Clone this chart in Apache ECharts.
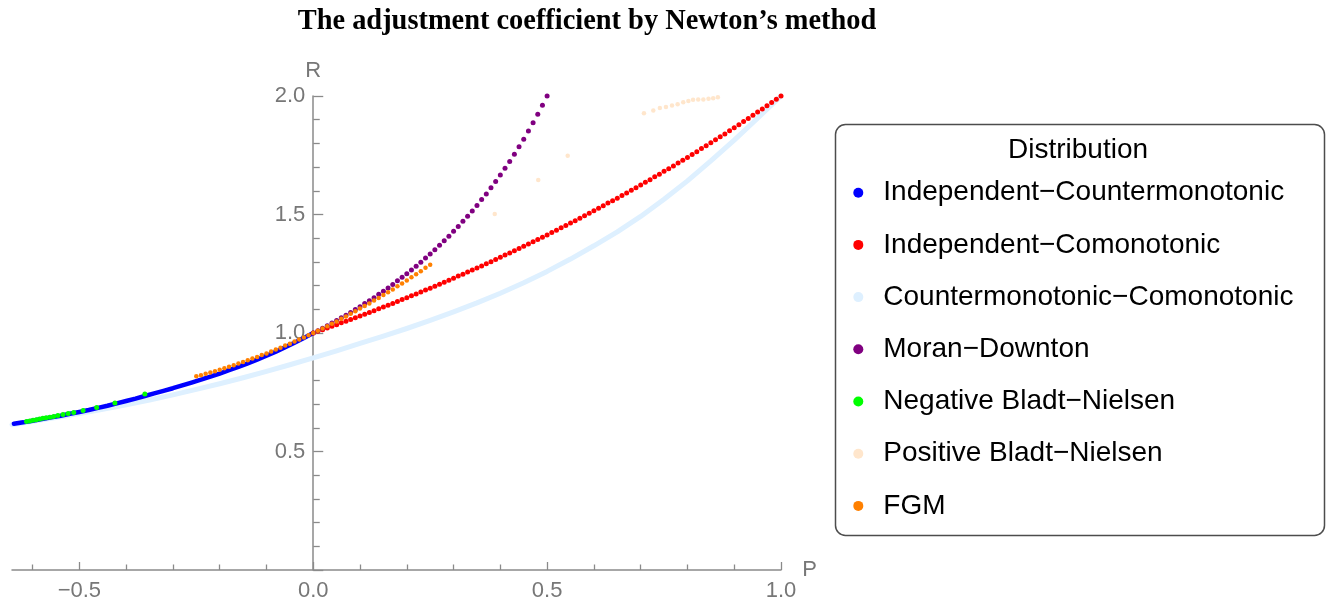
<!DOCTYPE html>
<html>
<head>
<meta charset="utf-8">
<script src="https://cdn.jsdelivr.net/npm/echarts@6/dist/echarts.min.js"></script>
<style>html,body{margin:0;padding:0;background:#fff}#c{width:1335px;height:600px}</style>
</head>
<body>
<div id="c"></div>
<script>
// ---- Data ----
const seriesNames = [
  'Independent\u2212Countermonotonic',
  'Independent\u2212Comonotonic',
  'Countermonotonic\u2212Comonotonic',
  'Moran\u2212Downton',
  'Negative Bladt\u2212Nielsen',
  'Positive Bladt\u2212Nielsen',
  'FGM'
];
const seriesColors = ['#0000FF', '#FF0000', '#DEF0FF', '#800080', '#00FF00', '#FFE6CC', '#FF8000'];

const xTickLabels = [-0.5, 0.0, 0.5, 1.0];
const xMinorTicks = [-0.6, -0.4, -0.3, -0.2, -0.1, 0.1, 0.2, 0.3, 0.4, 0.6, 0.7, 0.8, 0.9];

// Independent-Countermonotonic (blue)
const pIC = [-0.64,-0.62,-0.60,-0.58,-0.56,-0.54,-0.52,-0.50,-0.48,-0.46,-0.44,-0.42,-0.40,-0.38,-0.36,-0.34,-0.32,-0.30,-0.28,-0.26,-0.24,-0.22,-0.20,-0.18,-0.16,-0.14,-0.12,-0.10,-0.08,-0.06,-0.04,-0.02,0.00];
const rIC = [0.617,0.623,0.630,0.637,0.644,0.651,0.659,0.667,0.675,0.684,0.693,0.703,0.713,0.723,0.734,0.745,0.756,0.767,0.779,0.791,0.803,0.816,0.829,0.843,0.857,0.872,0.888,0.904,0.921,0.940,0.959,0.979,1.000];

// Independent-Comonotonic (red)
const pICo = [0.00,0.01,0.02,0.03,0.04,0.05,0.06,0.07,0.08,0.09,0.10,0.11,0.12,0.13,0.14,0.15,0.16,0.17,0.18,0.19,0.20,0.21,0.22,0.23,0.24,0.25,0.26,0.27,0.28,0.29,0.30,0.31,0.32,0.33,0.34,0.35,0.36,0.37,0.38,0.39,0.40,0.41,0.42,0.43,0.44,0.45,0.46,0.47,0.48,0.49,0.50,0.51,0.52,0.53,0.54,0.55,0.56,0.57,0.58,0.59,0.60,0.61,0.62,0.63,0.64,0.65,0.66,0.67,0.68,0.69,0.70,0.71,0.72,0.73,0.74,0.75,0.76,0.77,0.78,0.79,0.80,0.81,0.82,0.83,0.84,0.85,0.86,0.87,0.88,0.89,0.90,0.91,0.92,0.93,0.94,0.95,0.96,0.97,0.98,0.99,1.00];
const rICo = [1.000,1.007,1.014,1.021,1.028,1.035,1.043,1.050,1.057,1.064,1.072,1.079,1.087,1.094,1.102,1.110,1.117,1.125,1.133,1.141,1.149,1.157,1.165,1.173,1.181,1.189,1.197,1.206,1.214,1.223,1.231,1.240,1.248,1.257,1.266,1.274,1.283,1.292,1.301,1.310,1.320,1.329,1.338,1.347,1.357,1.366,1.376,1.385,1.395,1.404,1.414,1.424,1.434,1.444,1.454,1.464,1.474,1.484,1.495,1.505,1.516,1.526,1.537,1.548,1.558,1.569,1.580,1.591,1.602,1.613,1.625,1.636,1.647,1.659,1.670,1.682,1.693,1.705,1.717,1.729,1.741,1.753,1.765,1.778,1.790,1.803,1.815,1.828,1.840,1.853,1.866,1.879,1.892,1.905,1.919,1.932,1.945,1.959,1.973,1.986,2.000];

// Countermonotonic-Comonotonic (light blue)
const pCC = [-0.644,-0.60,-0.55,-0.50,-0.45,-0.40,-0.35,-0.30,-0.25,-0.20,-0.15,-0.10,-0.05,0.00,0.05,0.10,0.15,0.20,0.25,0.30,0.35,0.40,0.45,0.50,0.55,0.60,0.65,0.70,0.75,0.80,0.85,0.90,0.95,1.00];
const rCC = [0.613,0.627,0.643,0.660,0.678,0.697,0.717,0.739,0.762,0.786,0.811,0.838,0.866,0.895,0.925,0.956,0.987,1.019,1.053,1.089,1.127,1.168,1.212,1.260,1.312,1.368,1.427,1.492,1.564,1.642,1.726,1.814,1.906,2.000];

// Moran-Downton (purple)
const pMD = [0.00,0.01,0.02,0.03,0.04,0.05,0.06,0.07,0.08,0.09,0.10,0.11,0.12,0.13,0.14,0.15,0.16,0.17,0.18,0.19,0.20,0.21,0.22,0.23,0.24,0.25,0.26,0.27,0.28,0.29,0.30,0.31,0.32,0.33,0.34,0.35,0.36,0.37,0.38,0.39,0.40,0.41,0.42,0.43,0.44,0.45,0.46,0.47,0.48,0.49,0.50];
const rMD = [1.000,1.010,1.020,1.031,1.042,1.053,1.064,1.075,1.087,1.099,1.111,1.124,1.136,1.149,1.163,1.176,1.190,1.205,1.220,1.235,1.250,1.266,1.282,1.299,1.316,1.333,1.351,1.370,1.389,1.408,1.429,1.449,1.471,1.493,1.515,1.538,1.563,1.587,1.613,1.639,1.667,1.695,1.724,1.754,1.786,1.818,1.852,1.887,1.923,1.961,2.000];

// Negative Bladt-Nielsen (green)
const pNBN = [-0.613,-0.606,-0.599,-0.592,-0.585,-0.578,-0.571,-0.563,-0.555,-0.546,-0.535,-0.524,-0.512,-0.492,-0.463,-0.424,-0.360];
const rNBN = [0.627,0.629,0.632,0.634,0.637,0.640,0.642,0.645,0.648,0.652,0.656,0.660,0.665,0.673,0.686,0.705,0.743];

// Positive Bladt-Nielsen (peach)
const pPBN = [0.388,0.481,0.544,0.707,0.727,0.741,0.754,0.767,0.779,0.791,0.802,0.812,0.823,0.834,0.845,0.855,0.865];
const rPBN = [1.502,1.646,1.748,1.927,1.939,1.949,1.954,1.960,1.965,1.974,1.979,1.984,1.985,1.985,1.988,1.991,1.995];

// FGM (orange)
const pFGM = [-0.25,-0.24,-0.23,-0.22,-0.21,-0.20,-0.19,-0.18,-0.17,-0.16,-0.15,-0.14,-0.13,-0.12,-0.11,-0.10,-0.09,-0.08,-0.07,-0.06,-0.05,-0.04,-0.03,-0.02,-0.01,0.00,0.01,0.02,0.03,0.04,0.05,0.06,0.07,0.08,0.09,0.10,0.11,0.12,0.13,0.14,0.15,0.16,0.17,0.18,0.19,0.20,0.21,0.22,0.23,0.24,0.25];
const rFGM = [0.817,0.822,0.828,0.833,0.839,0.845,0.851,0.858,0.864,0.871,0.878,0.885,0.892,0.899,0.907,0.914,0.922,0.930,0.938,0.947,0.955,0.964,0.973,0.981,0.991,1.000,1.010,1.019,1.029,1.039,1.049,1.060,1.070,1.081,1.092,1.103,1.114,1.125,1.137,1.148,1.160,1.172,1.184,1.197,1.209,1.222,1.235,1.248,1.261,1.275,1.288];

// ---- Chart ----
const zip = (p, r) => p.map((v, i) => [v, r[i]]);
const fmt = v => (v < 0 ? '\u2212' : '') + Math.abs(v).toFixed(1);
const axisGray = '#8a8a8a';
const labelGray = '#777777';
const X_MIN = -0.644, X_MAX = 1.0;
const GRID_LEFT = 12, GRID_RIGHT = 554;
const plotW = 1335 - GRID_LEFT - GRID_RIGHT;
const zeroOffset = -plotW * (0 - X_MIN) / (X_MAX - X_MIN);

const chart = echarts.init(document.getElementById('c'), null, {renderer: 'canvas'});
chart.setOption({
  animation: false,
  backgroundColor: '#ffffff',
  grid: {left: GRID_LEFT, right: GRID_RIGHT, top: 96, bottom: 30, containLabel: false, outerBoundsMode: 'none'},
  xAxis: [{
    type: 'value', min: X_MIN, max: X_MAX, position: 'bottom',
    name: 'P', nameLocation: 'end', nameGap: 18,
    nameTextStyle: {color: labelGray, fontSize: 22, fontFamily: 'Liberation Sans', verticalAlign: 'middle'},
    axisLine: {show: true, onZero: false, lineStyle: {color: axisGray, width: 1.5}},
    axisTick: {show: true, inside: true, length: 8, customValues: xTickLabels, lineStyle: {color: axisGray, width: 1.3}},
    axisLabel: {show: true, customValues: xTickLabels, formatter: fmt, margin: 10, color: labelGray, fontSize: 22, fontFamily: 'Liberation Sans', showMinLabel: true, showMaxLabel: true},
    splitLine: {show: false}
  }, {
    type: 'value', min: X_MIN, max: X_MAX, position: 'bottom',
    axisLine: {show: false, onZero: false},
    axisTick: {show: true, inside: true, length: 5.5, customValues: xMinorTicks, lineStyle: {color: axisGray, width: 1.3}},
    axisLabel: {show: false},
    splitLine: {show: false}
  }],
  yAxis: {
    type: 'value', min: 0, max: 2, interval: 0.5, position: 'left', offset: zeroOffset,
    name: 'R', nameLocation: 'end', nameGap: 14,
    nameTextStyle: {color: labelGray, fontSize: 22, fontFamily: 'Liberation Sans', align: 'center'},
    axisLine: {show: true, onZero: false, lineStyle: {color: axisGray, width: 1.5}},
    axisTick: {show: true, inside: true, length: 10, lineStyle: {color: axisGray, width: 1.3}},
    minorTick: {show: true, splitNumber: 5, length: 6.5, lineStyle: {color: axisGray, width: 1.3}},
    axisLabel: {formatter: v => v.toFixed(1), margin: 8, color: labelGray, fontSize: 22, fontFamily: 'Liberation Sans', showMinLabel: false},
    splitLine: {show: false},
    minorSplitLine: {show: false}
  },
  legend: {
    orient: 'vertical', left: 853.3, top: 177.7, padding: 0,
    itemWidth: 40, itemHeight: 10, itemGap: 22.2, icon: 'circle', selectedMode: false,
    data: seriesNames.map((n, i) => ({name: n, icon: 'circle', itemStyle: {color: seriesColors[i], borderWidth: 0, opacity: 1}})),
    textStyle: {fontFamily: 'Liberation Sans', fontSize: 28, color: '#000000', lineHeight: 30}
  },
  graphic: [
    {type: 'text', x: 587, y: 22, style: {text: 'The adjustment coefficient by Newton\u2019s method', font: 'bold 28.4px "Liberation Serif"', fill: '#000', align: 'center', verticalAlign: 'middle'}},
    {type: 'rect', shape: {x: 835.5, y: 124.5, width: 489, height: 411, r: 10}, style: {fill: 'none', stroke: '#4d4d4d', lineWidth: 1.5}},
    {type: 'text', x: 1078, y: 150, style: {text: 'Distribution', font: '28px "Liberation Sans"', fill: '#000', align: 'center', verticalAlign: 'middle'}}
  ],
  series: [
    {name: seriesNames[2], type: 'line', color: seriesColors[2], data: zip(pCC, rCC), showSymbol: false, smooth: false, z: 2,
     lineStyle: {width: 5, color: seriesColors[2], cap: 'round', join: 'round', opacity: 1}, silent: true},
    {name: seriesNames[0], type: 'line', color: seriesColors[0], data: zip(pIC, rIC), showSymbol: false, smooth: false, z: 2,
     lineStyle: {width: 4.5, color: seriesColors[0], cap: 'round', join: 'round', opacity: 1}, silent: true},
    {name: seriesNames[1], type: 'scatter', z: 3, data: zip(pICo, rICo), symbol: 'circle', symbolSize: 5, itemStyle: {color: seriesColors[1], opacity: 1}, silent: true},
    {name: seriesNames[3], type: 'scatter', z: 3, data: zip(pMD, rMD), symbol: 'circle', symbolSize: 5, itemStyle: {color: seriesColors[3], opacity: 1}, silent: true},
    {name: seriesNames[4], type: 'scatter', z: 4, data: zip(pNBN, rNBN), symbol: 'circle', symbolSize: 5, itemStyle: {color: seriesColors[4], opacity: 1}, silent: true},
    {name: seriesNames[5], type: 'scatter', z: 3, data: zip(pPBN, rPBN), symbol: 'circle', symbolSize: 4.5, itemStyle: {color: seriesColors[5], opacity: 1}, silent: true},
    {name: seriesNames[6], type: 'scatter', z: 4, data: zip(pFGM, rFGM), symbol: 'circle', symbolSize: 4.5, itemStyle: {color: seriesColors[6], opacity: 1}, silent: true}
  ]
});
</script>
</body>
</html>
